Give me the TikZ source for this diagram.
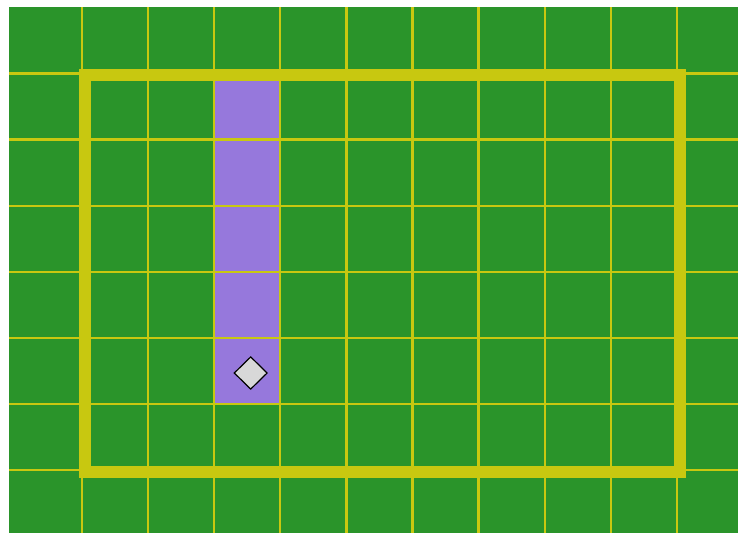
\documentclass[tikz,border=0pt]{standalone}
\usetikzlibrary{shapes.geometric}
\definecolor{fieldgreen}{RGB}{42,148,42}
\definecolor{lineyellow}{RGB}{200,200,16}
\definecolor{pathpurple}{RGB}{150,120,220}
\definecolor{tokengray}{RGB}{216,216,216}
\tikzset{
  gridline/.style={draw=lineyellow, line width=1.7pt},
  boundary/.style={draw=lineyellow, line width=9pt},
  token/.style={diamond, draw=black, fill=tokengray, line width=0.9pt, minimum width=25pt, minimum height=24.5pt, inner sep=0pt}
}
\begin{document}
\begin{tikzpicture}[x=0.75pt,y=-0.75pt]
\useasboundingbox (0,0) rectangle (738,533);
\fill[fieldgreen] (9,7) rectangle (738,533);
\fill[pathpurple] (214,73.5) rectangle (280.1,404);
\foreach \k in {0,...,9} {
  \draw[gridline] ({82+66.1*\k},7) -- ({82+66.1*\k},533);
}
\foreach \k in {0,...,6} {
  \draw[gridline] (9,{73.5+66.1*\k}) -- (738,{73.5+66.1*\k});
}
\draw[boundary] (85,75) rectangle (680,471.5);
\node[token] (piece) at (250.7,373) {};
\end{tikzpicture}
\end{document}
